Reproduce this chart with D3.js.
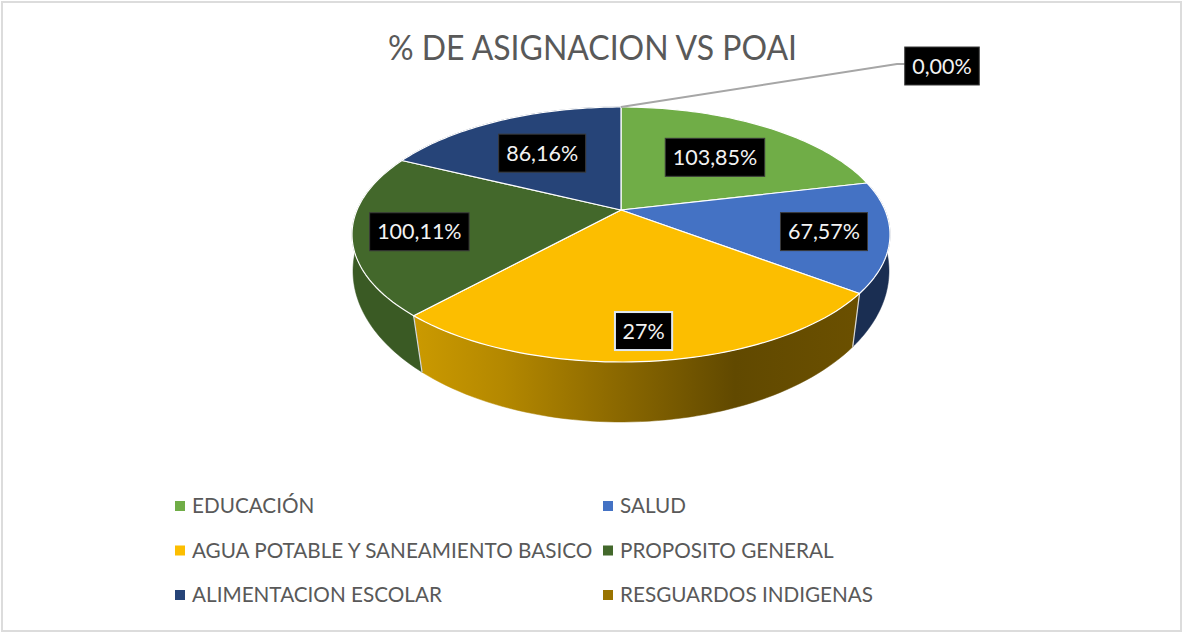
<!DOCTYPE html>
<html><head><meta charset="utf-8">
<script src="https://cdn.jsdelivr.net/npm/d3@7"></script>
<style>html,body{margin:0;padding:0;background:#fff}svg{display:block}text{font-family:Lato,"Open Sans",sans-serif}</style>
</head><body><svg id="c" width="1182" height="632"></svg>
<script>
const categories = ["EDUCACIÓN","SALUD","AGUA POTABLE Y SANEAMIENTO BASICO","PROPOSITO GENERAL","ALIMENTACION ESCOLAR","RESGUARDOS INDIGENAS"];
const sliceShares = [18.38,14.27,31.36,20.85,15.14,0];
const valueLabels = ["103,85%","67,57%","27%","100,11%","86,16%","0,00%"];
const colors = ["#70AD47","#4472C4","#FCBE00","#43682B","#264478","#997300"];
const sideColors = ["#4d7a30","#1A2E52","url(#yellowSide)","#3A5A24","#1A2E52","#6b5000"];
const labelReach = [0.64,0.755,0.8,0.75,0.64,0];

const svg = d3.select("#c");
const W=1182,H=632;
svg.append("rect").attr("x",2).attr("y",2).attr("width",W-3).attr("height",H-3)
  .attr("fill","#fff").attr("stroke","#dcdcdc").attr("stroke-width",2);

svg.append("text").attr("x",592.5).attr("y",60).attr("text-anchor","middle")
  .attr("font-size",34).attr("fill","#595959").attr("textLength",409).attr("lengthAdjust","spacingAndGlyphs")
  .text("% DE ASIGNACION VS POAI");

const defs=svg.append("defs");
const g=defs.append("linearGradient").attr("id","yellowSide").attr("gradientUnits","userSpaceOnUse")
  .attr("x1",414).attr("x2",860).attr("y1",0).attr("y2",0);
[[0,"#CB9A00"],[0.2,"#B48800"],[0.45,"#8C6900"],[0.72,"#614900"],[1,"#6B5000"]]
  .forEach(s=>g.append("stop").attr("offset",s[0]).attr("stop-color",s[1]));

const pie=d3.pie().sort(null).value(d=>d)(sliceShares);
const cx=621;
const topX=d3.scaleLinear().domain([-1,1]).range([cx-269,cx+269]);
const topY=d3.scaleLinear().domain([-1,1]).range([107,362]);
const botX=d3.scaleLinear().domain([-1,1]).range([cx-268,cx+268]);
const botY=d3.scaleLinear().domain([-1,1]).range([120,422]);
const hub=[cx,210];
// the rim of the lower face sits slightly rotated from the upper one (perspective)
const botAngle=d3.scaleLinear().domain([118*Math.PI/180,230.5*Math.PI/180]).range([120.6*Math.PI/180,228*Math.PI/180]);
const P=(a)=>[topX(Math.sin(a)),topY(-Math.cos(a))];
const B=(a)=>{const b=botAngle(a);return [botX(Math.sin(b)),botY(-Math.cos(b))];};
const line=d3.line();
const samples=(a0,a1)=>d3.range(0,61).map(i=>a0+(a1-a0)*i/60);

// sides: drawn first, upper faces cover their hidden part
pie.forEach((d,i)=>{
  if(d.endAngle-d.startAngle<=0)return;
  const mid=(d.startAngle+d.endAngle)/2;
  if(mid<Math.PI/2-0.6||mid>Math.PI*1.9)return;
  const a=samples(d.startAngle,d.endAngle);
  const pts=a.map(P).concat(a.slice().reverse().map(B));
  svg.append("path").attr("d",line(pts)+"Z").attr("fill",sideColors[i]).attr("stroke",sideColors[i]).attr("stroke-width",0.5);
});
// seams on the visible side
pie.forEach(d=>{
  const a=d.startAngle;
  if(a>Math.PI/2+0.3&&a<Math.PI*1.4)
    svg.append("path").attr("d",line([P(a),B(a)])).attr("stroke","#d9d9d9").attr("stroke-width",1.2).attr("fill","none");
});
// upper faces
pie.forEach((d,i)=>{
  if(d.endAngle-d.startAngle<=0)return;
  const pts=[hub].concat(samples(d.startAngle,d.endAngle).map(P));
  svg.append("path").attr("d",line(pts)+"Z").attr("fill",colors[i]).attr("stroke","#ffffff").attr("stroke-width",1.2).attr("stroke-linejoin","round");
});

// leader for the empty slice
const zeroStart=P(pie[5].startAngle);
const calloutBend=[zeroStart[0]+276,zeroStart[1]-43];
svg.append("path").attr("d",line([zeroStart,calloutBend,[calloutBend[0]+9,calloutBend[1]]]))
  .attr("fill","none").attr("stroke","#a6a6a6").attr("stroke-width",2);

// value labels
function label(x,y,txt,i){
  const t=svg.append("text").attr("x",x).attr("y",y+7.5).attr("text-anchor","middle")
    .attr("font-size",21.5).attr("fill","#f2f2f2").text(txt);
  const w=t.node().getComputedTextLength();
  const wBox=w+15, hBox=38;
  svg.insert("rect","text:last-of-type").attr("x",x-wBox/2).attr("y",y-hBox/2).attr("width",wBox).attr("height",hBox)
    .attr("fill","#000").attr("stroke",i===2?"#dfe8f2":"#3b3b3b").attr("stroke-width",i===2?2:1);
  t.raise();
}
pie.forEach((d,i)=>{
  if(d.endAngle-d.startAngle<=0){
    label(calloutBend[0]+45,calloutBend[1]+2,valueLabels[i],i);
    return;
  }
  const mid=(d.startAngle+d.endAngle)/2, e=P(mid), f=labelReach[i];
  label(hub[0]+f*(e[0]-hub[0]),hub[1]+f*(e[1]-hub[1]),valueLabels[i],i);
});

// legend
const colX=d3.scalePoint().domain([0,1]).range([175,603]);
const rowY=d3.scalePoint().domain([0,1,2]).range([506,595]);
categories.forEach((c,i)=>{
  const x=colX(i%2),y=rowY(Math.floor(i/2));
  svg.append("rect").attr("x",x).attr("y",y-5).attr("width",10).attr("height",10).attr("fill",colors[i]);
  svg.append("text").attr("x",x+17).attr("y",y+7).attr("font-size",20.7).attr("fill","#595959").text(c);
});
</script></body></html>
